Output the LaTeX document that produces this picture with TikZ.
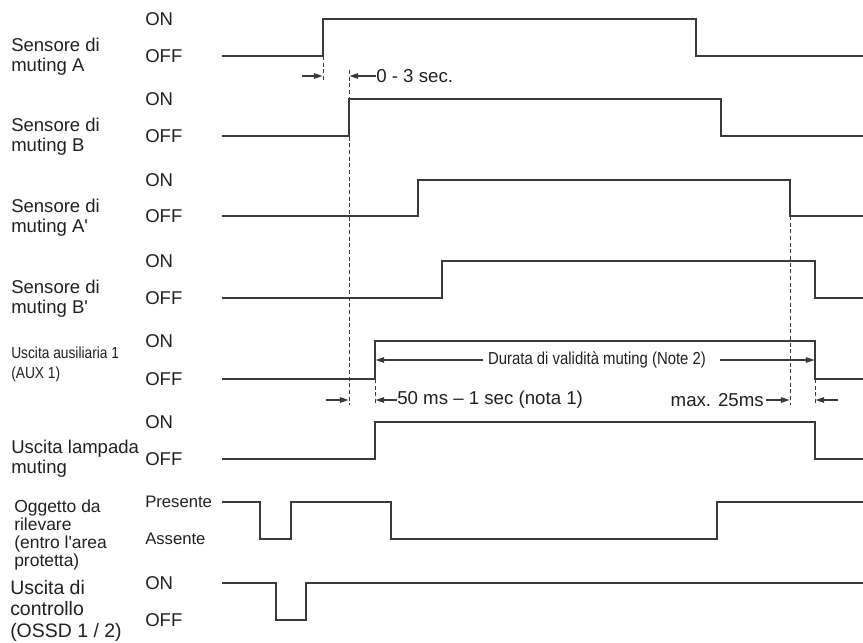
\documentclass[tikz,border=0pt]{standalone}
\usepackage{fontspec}
\setmainfont{Liberation Sans}
\newfontfamily\narrowf[FakeStretch=0.86]{Liberation Sans}
\usetikzlibrary{arrows.meta}
\definecolor{ln}{HTML}{3A3A3A}
\definecolor{tx}{HTML}{231F20}
\begin{document}
\begin{tikzpicture}[x=0.75pt,y=-0.75pt,
  sig/.style={draw=ln,line width=1.1pt,line join=miter},
  dsh/.style={draw=ln,line width=0.6pt,dash pattern=on 3pt off 2pt},
  arr/.style={draw=ln,line width=0.9pt,-{Triangle[length=6.5pt,width=4.2pt]}},
  lbl/.style={anchor=north west,inner sep=0pt,align=left,text=tx,font=\fontsize{13.9}{15.2}\selectfont},
  lvl/.style={anchor=west,inner sep=0pt,text=tx,font=\fontsize{13.9}{14}\selectfont},
  lvls/.style={anchor=west,inner sep=0pt,text=tx,font=\fontsize{12.5}{14}\selectfont},
  ann/.style={inner sep=0pt,text=tx,font=\fontsize{14}{16}\selectfont}]
\useasboundingbox (0,0) rectangle (863,642);

% ---- row labels ----
\node[lbl] (l1) at (11,38) {Sensore di\\muting A};
\node[lbl] (l2) at (11,118) {Sensore di\\muting B};
\node[lbl] (l3) at (11,199) {Sensore di\\muting A\textquotesingle};
\node[lbl] (l4) at (11,280) {Sensore di\\muting B\textquotesingle};
\node[lbl,font=\narrowf\fontsize{12}{15}\selectfont] (l5) at (11,347) {Uscita ausiliaria 1\\(AUX 1)};
\node[lbl] (l6) at (11,440) {Uscita lampada\\muting};
\node[lbl,font=\fontsize{13.1}{13.3}\selectfont] (l7) at (14,500) {Oggetto da\\rilevare\\(entro l\textquotesingle area\\protetta)};
\node[lbl,font=\fontsize{14.6}{16.1}\selectfont] (l8) at (10,580) {Uscita di\\controllo\\(OSSD 1 / 2)};

% ---- level labels ----
\node[lvl] (on1) at (145,19) {ON};   \node[lvl] (off1) at (145,56) {OFF};
\node[lvl] (on2) at (145,99) {ON};   \node[lvl] (off2) at (145,136) {OFF};
\node[lvl] (on3) at (145,180) {ON};  \node[lvl] (off3) at (145,216) {OFF};
\node[lvl] (on4) at (145,261) {ON};  \node[lvl] (off4) at (145,298) {OFF};
\node[lvl] (on5) at (145,341) {ON};  \node[lvl] (off5) at (145,379) {OFF};
\node[lvl] (on6) at (145,422) {ON};  \node[lvl] (off6) at (145,459) {OFF};
\node[lvls] (pr7) at (145,502) {Presente}; \node[lvls] (as7) at (145,539) {Assente};
\node[lvl] (on8) at (145,583) {ON};  \node[lvl] (off8) at (145,620) {OFF};

% ---- signals ----
\draw[sig] (222,56) -- (323,56) -- (323,19) -- (696,19) -- (696,56) -- (863,56);
\draw[sig] (222,136) -- (349,136) -- (349,99) -- (721,99) -- (721,136) -- (863,136);
\draw[sig] (222,216) -- (418,216) -- (418,180) -- (790,180) -- (790,216) -- (863,216);
\draw[sig] (222,298) -- (442,298) -- (442,261) -- (815,261) -- (815,298) -- (863,298);
\draw[sig] (222,379) -- (375,379) -- (375,341) -- (815,341) -- (815,379) -- (863,379);
\draw[sig] (222,459) -- (375,459) -- (375,422) -- (815,422) -- (815,459) -- (863,459);
\draw[sig] (222,502) -- (260,502) -- (260,539) -- (291,539) -- (291,502) -- (391,502) -- (391,539) -- (717,539) -- (717,502) -- (863,502);
\draw[sig] (222,583) -- (276,583) -- (276,620) -- (306,620) -- (306,583) -- (863,583);

% ---- dashed guides ----
\coordinate (dA1) at (323,56);  \coordinate (dA2) at (323,82);
\coordinate (dB1) at (349,70);  \coordinate (dB2) at (349,405);
\coordinate (dX1) at (375,379); \coordinate (dX2) at (375,405);
\coordinate (dP1) at (790,216); \coordinate (dP2) at (790,405);
\coordinate (dQ1) at (815,379); \coordinate (dQ2) at (815,405);
\draw[dsh] (dA1) -- (dA2);
\draw[dsh] (dB1) -- (dB2);
\draw[dsh] (dX1) -- (dX2);
\draw[dsh] (dP1) -- (dP2);
\draw[dsh] (dQ1) -- (dQ2);

% ---- 0 - 3 sec ----
\coordinate (a1s) at (302,76); \coordinate (a1e) at (322.5,76);
\draw[arr] (a1s) -- (a1e);
\node[ann,anchor=west] (t03) at (376,76) {0 - 3 sec.};
\coordinate (a2e) at (349.5,76);
\draw[arr] (t03.west) -- (a2e);

% ---- Durata ----
\node[ann,font=\narrowf\fontsize{13}{15}\selectfont] (dur) at (597,360) {Durata di validità muting (Note 2)};
\coordinate (du1) at (483,360); \coordinate (du1e) at (375.5,360);
\coordinate (du2) at (720,360); \coordinate (du2e) at (814.5,360);
\draw[arr] (du1) -- (du1e);
\draw[arr] (du2) -- (du2e);

% ---- bottom annotations ----
\coordinate (b1s) at (326,400); \coordinate (b1e) at (348.5,400);
\draw[arr] (b1s) -- (b1e);
\node[ann,anchor=west] (t50) at (397,400) {50 ms – 1 sec (nota 1)};
\coordinate (b2e) at (375.5,400);
\draw[arr] (t50.west) -- (b2e);
\node[ann,anchor=east] (t25) at (764,400) {max. 25ms};
\coordinate (b3e) at (789.5,400);
\draw[arr] ([xshift=1.5pt]t25.east) -- (b3e);
\coordinate (b4s) at (838,400); \coordinate (b4e) at (815.5,400);
\draw[arr] (b4s) -- (b4e);
\end{tikzpicture}
\end{document}
